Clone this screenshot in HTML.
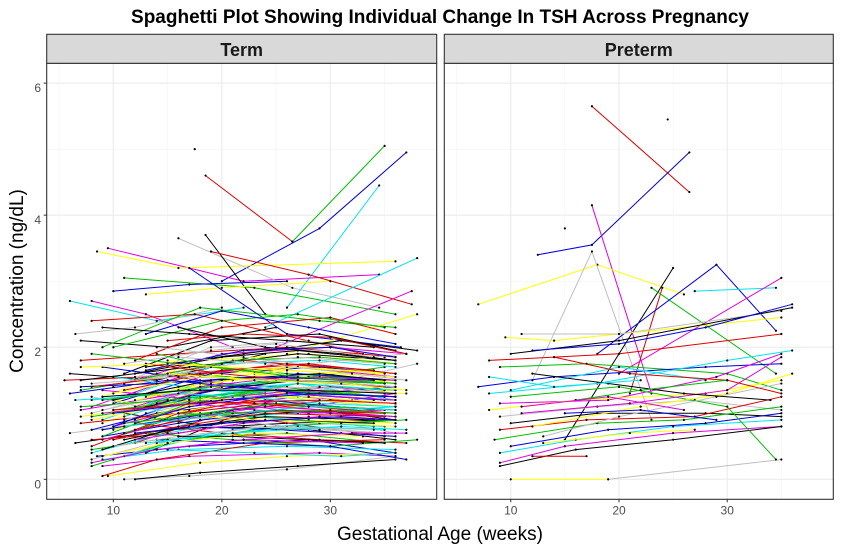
<!DOCTYPE html>
<html><head><meta charset="utf-8"><style>
body{margin:0;background:#fff;}
svg{display:block;font-family:"Liberation Sans",sans-serif;}
</style></head><body>
<svg id="chart" width="842" height="550">
<text x="440" y="23" text-anchor="middle" font-size="19" font-weight="bold" fill="#000">Spaghetti Plot Showing Individual Change In TSH Across Pregnancy</text>
<text x="440" y="540" text-anchor="middle" font-size="19" fill="#000">Gestational Age (weeks)</text>
<text transform="translate(23,281) rotate(-90)" text-anchor="middle" font-size="19" fill="#000">Concentration (ng/dL)</text>
</svg>
<script>
const yTicks=[0,2,4,6];
const xTicks=[10,20,30];
const panelNames=["Term","Preterm"];
const termAges=[[17.5],[18.5,26.5],[26.5,35],[20,29,37],[26,34.5],[9.5,22,34.5],[8.5,16,36],[16,26.5,34.5],[18.5,24],[19,28,37.5],[11,23,36],[10,17,26],[6,14,22],[8,13,21],[13,20,30],[6.5,12,20],[7,15,25],[8,17.5,33],[9,18,29,36],[17,26,36.5],[24,38],[25,37.5],[26,38],[26,38],[6,14,24],[5.5,13,22,36],[7,16,26,35],[6,15,25],[6.5,16,27,36],[7,16,28,36],[7,17,28],[6,15,27,36],[6.5,15,26,35],[8,16,24,35],[8,14,26,35],[8.5,17,28,36],[9,16,26,36],[9,17,29,36],[9.5,18,26,36],[11,17,26,36],[12,18,27,36],[9,14,24,35],[8,15,25,36],[8,14,24,34],[9,16,27,35],[8,17,27,36],[9,18,28,36],[10,19,28,35],[11,19,29,36],[12,20,30,36],[10,20,27,35],[13,20,28,36],[10,18,26,36],[11,19,27,36],[12,19,28,37],[10,20,28,36],[13,21,29,36],[12,21,30,36],[11,20,30,36],[10,19,29,36],[12,20,29,36],[11,20,30,37],[9,19,27,36],[8,18,27,35],[7,17,27,36],[7,16,26,36],[8,16,26,35],[9,18,27,36],[10,19,28,36],[9,18,28,35],[10,18,28,36],[8,17,26,35],[11,19,28,36],[12,20,29,37],[13,21,30,38],[14,22,30,37],[15,23,31,36],[14,22,31,36],[15,23,31,36],[14,22,30,36],[16,24,31,36],[15,23,32,36],[16,23,31,37],[17,25,31,36],[16,24,32,36],[13,21,30,36],[14,21,29,36],[12,20,28,37],[13,22,31,38],[15,22,30,37],[10,17,25,35],[9,16,25,35],[11,18,27,35],[10,17,26,35],[12,19,26,35],[11,19,25,34],[9,17,26,34],[7,16,24,36],[8,16,25,36],[9,17,25,36],
[8,15,23,34],[9,16,24,35],[10,17,25,36],[11,18,26,35],[12,19,27,36],[8,16,26,36],[9,17,27,35],[10,18,27,36],[11,17,25,34],[12,18,26,35],[13,19,27,36],[8,15,24,35],[9,15,23,34],[10,16,24,35],[11,16,25,36],[12,17,26,35],[13,18,27,36],[14,20,28,36],[8,17,28,36],[9,18,29,36],[10,19,29,35],[11,20,28,36],[12,21,29,36],[13,22,30,36],[14,21,29,35],[8,14,22,33],[9,15,23,33],[10,16,24,34],[11,17,24,34],[12,18,25,35],[7,15,24,35],[7,14,23,34],[8,16,25,35],[9,17,26,36],[10,18,26,35],[11,19,27,35],[12,20,27,36],[13,20,26,35],[14,19,27,36],[15,21,28,36],[16,22,29,36],[17,23,30,36],[18,24,31,36],[17,22,29,35],[16,21,28,35],[8,18,26,34],[9,19,27,35],[10,20,29,36],[11,21,28,36],[12,22,29,36],[7,15,26,36],[8,16,27,36],[9,17,28,36],[10,18,29,36],[11,19,30,36],[12,20,31,36],[13,21,31,37],[14,22,32,37],[15,23,31,37],[16,24,32,37]];
const termTsh=[[5.0],[4.6,3.6],[3.6,5.05],[3.0,3.8,4.95],[2.6,4.45],[3.5,3.0,3.1],[3.45,3.2,3.3],[3.65,2.9,2.6],[3.7,2.5],[3.45,3.1,2.65],[3.05,2.9,2.5],[2.85,2.95,3.0],[2.7,2.4,2.6],[2.7,2.5,2.0],[2.8,2.9,3.0],[2.2,2.3,2.6],[2.1,2.0,2.3],[2.4,2.5,1.9],[2.0,2.6,2.4,2.3],[3.2,2.2,2.0],[2.3,3.35],[2.0,2.85],[1.9,2.5],[1.3,1.75],[1.6,1.5,1.9],[1.5,1.55,1.8,1.6],[1.35,1.6,1.5,1.7],[1.3,1.5,1.4],[1.2,1.3,1.45,1.2],[1.05,1.3,1.1,1.3],[0.95,1.2,1.1],[0.7,0.9,1.0,0.85],[0.55,0.75,0.85,0.9],[0.6,0.7,0.9,0.65],[0.45,0.6,0.7,0.55],[0.35,0.5,0.6,0.4],[0.3,0.45,0.5,0.45],[0.2,0.35,0.4,0.35],[0.05,0.25,0.35,0.4],[0.0,0.05,0.15,0.35],[0.0,0.1,0.2,0.3],[0.05,0.3,0.55,0.6],[0.2,0.55,0.8,0.9],[0.75,1.0,1.2,1.05],[0.9,1.3,1.5,1.4],[1.1,1.6,1.7,1.55],[1.25,1.8,1.9,1.75],[1.4,2.0,2.1,1.85],[1.6,2.1,2.2,1.95],[1.8,2.3,2.45,2.2],[2.0,2.4,2.5,2.3],[2.2,2.55,2.3,2.05],[0.5,0.9,1.0,1.1],[0.7,1.1,1.25,1.15],[0.9,1.2,1.35,1.3],[0.3,0.85,0.95,0.7],[0.4,0.95,1.05,0.9],[0.55,1.05,1.2,1.15],[1.0,1.5,1.55,1.45],[1.15,1.6,1.7,1.6],[1.3,1.75,1.8,1.7],[1.45,1.9,2.0,1.9],[0.85,1.4,1.25,1.35],[1.0,1.45,1.6,1.5],[1.5,1.7,1.9,1.8],[1.8,1.9,2.0,1.85],[1.9,1.75,1.6,1.5],[1.7,1.5,1.3,1.4],[1.55,1.35,1.2,1.1],[1.35,1.2,1.0,1.05],[1.2,1.0,0.9,0.85],[1.25,0.95,0.8,0.7],[1.0,0.8,0.75,0.6],[0.85,0.7,0.6,0.55],[0.7,0.6,0.5,0.6],[0.6,0.55,0.5,0.3],[0.45,0.4,0.35,0.4],[1.6,1.4,1.3,1.25],[1.8,1.6,1.45,1.5],[2.0,1.85,1.7,1.6],[2.3,2.0,1.9,1.8],[1.2,1.15,1.0,0.95],[1.0,0.95,0.85,0.9],[0.8,0.75,0.7,0.65],[1.4,1.3,1.2,1.15],[1.1,1.25,1.4,1.3],[1.3,1.5,1.55,1.45],[1.55,1.65,1.75,1.9],[1.7,1.9,2.1,1.95],[2.1,2.2,2.15,1.9],[1.05,1.2,1.4,1.25],[0.65,0.85,1.05,0.95],[0.35,0.65,0.8,0.75],[0.8,1.1,1.3,1.2],[1.2,1.45,1.65,1.55],[1.75,1.95,2.05,1.85],[2.3,2.2,2.1,2.0],[0.85,1.0,1.15,1.0],[0.95,1.15,1.35,1.25],[0.75,0.95,1.15,1.05],
[0.4,0.7,0.95,0.8],[0.6,0.9,1.1,1.0],[0.75,1.05,1.25,1.1],[0.9,1.2,1.4,1.3],[1.05,1.35,1.5,1.4],[0.5,1.0,1.3,1.2],[0.65,1.15,1.45,1.35],[0.8,1.3,1.6,1.5],[0.95,1.25,1.35,1.2],[1.1,1.4,1.55,1.45],[1.25,1.5,1.7,1.6],[0.3,0.6,0.8,0.7],[0.45,0.75,0.9,0.85],[0.6,0.8,1.0,0.95],[0.7,0.95,1.15,1.05],[0.85,1.1,1.3,1.2],[1.0,1.25,1.45,1.35],[1.15,1.4,1.55,1.5],[0.9,1.2,1.25,1.15],[1.05,1.35,1.4,1.3],[1.2,1.5,1.6,1.5],[1.35,1.65,1.75,1.6],[1.5,1.8,1.85,1.75],[1.65,1.95,2.0,1.85],[0.55,0.75,0.85,0.8],[0.25,0.45,0.6,0.55],[0.35,0.55,0.7,0.65],[0.5,0.65,0.8,0.75],[0.6,0.8,0.95,0.9],[0.75,0.95,1.05,1.0],[1.1,1.2,1.35,1.25],[1.4,1.45,1.55,1.5],[1.2,1.35,1.5,1.4],[1.0,1.15,1.3,1.2],[1.3,1.55,1.7,1.6],[1.45,1.7,1.85,1.75],[1.6,1.85,1.95,1.8],[1.75,1.6,1.5,1.4],[1.9,1.7,1.55,1.45],[1.5,1.4,1.3,1.25],[1.3,1.25,1.15,1.1],[1.15,1.05,1.0,0.95],[0.95,0.9,0.85,0.8],[0.8,0.8,0.75,0.7],[0.65,0.65,0.6,0.55],[1.4,1.6,1.75,1.65],[1.2,1.4,1.5,1.45],[1.0,1.2,1.3,1.25],[0.8,1.0,1.1,1.05],[0.6,0.85,0.95,0.9],[1.7,1.75,1.65,1.55],[1.45,1.55,1.5,1.4],[1.25,1.35,1.35,1.3],[1.05,1.15,1.2,1.15],[0.85,1.0,1.05,1.0],[0.7,0.85,0.95,0.9],[0.55,0.7,0.8,0.75],[0.45,0.6,0.7,0.7],[1.6,1.5,1.45,1.35],[1.85,1.75,1.6,1.5]];
const pretermAges=[[17.5,26.5],[24.5],[12.5,17.5,26.5],[15],[17.5,23],[7,18,26],[12,17.5,23],[15,25],[21,24],[23,34.5],[18,29,34.5],[27,34.5],[20,35],[9.5,14,35],[11,20,35],[10,20,36],[8,20,35],[9,17,30,35],[7,14,28,35],[8,18,30,36],[9,19,29,35],[8,16,28,35],[9,18,27,35],[10,18,28,35],[9,17,27,35],[8.5,18,26,35],[10,19,28,35],[9,16,25,35],[9,15,25,35],[10,19],[19,35],[9,16,25,35],[12,17],[10,20,30,34.5],[12,20,28,36],[10,20,28],[11,21,30,35],[12,22,30,36],[13,20,29,35],[12,19,26,34],[14,21,30,35],[16,22,30],[15,22,29],[8,14,22],[11,19,26],[13,21,27]];
const pretermTsh=[[5.65,4.35],[5.45],[3.4,3.55,4.95],[3.8],[4.15,1.3],[2.65,3.25,2.8],[1.5,3.45,0.9],[0.6,3.2],[1.3,2.9],[2.9,1.6],[1.9,3.25,2.25],[2.85,2.9],[1.6,3.05],[2.15,2.1,2.45],[2.2,2.2,2.55],[1.9,2.1,2.6],[1.8,1.9,2.2],[1.7,1.75,1.6,1.35],[1.4,1.55,1.7,1.75],[1.3,1.45,1.8,1.95],[1.15,1.2,1.55,1.9],[1.05,1.2,1.3,1.5],[0.95,1.1,1.2,1.05],[0.85,1.0,1.0,0.95],[0.75,0.9,0.95,1.25],[0.6,0.85,0.9,1.1],[0.5,0.75,0.85,1.0],[0.4,0.6,0.8,0.9],[0.25,0.5,0.7,0.8],[0.0,0.0],[0.0,0.3],[0.2,0.45,0.6,0.8],[0.35,0.35],[1.25,1.4,1.1,0.3],[1.95,2.05,2.3,2.65],[1.35,1.7,1.5],[1.0,1.15,1.35,1.85],[0.8,1.1,1.3,1.6],[0.65,0.95,1.25,1.45],[1.6,1.45,1.3,1.2],[1.85,1.6,1.5,1.3],[1.2,1.35,1.5],[1.0,1.05,0.9],[1.55,1.4,1.5],[1.1,1.25,1.05],[0.55,0.7,0.75]];
const palette=["#000000","#DF0000","#00C000","#0000E0","#00E5EE","#E000E0","#FFFF00","#BEBEBE"];

const NS="http://www.w3.org/2000/svg";
const svg=document.getElementById("chart");
const panels=[{x0:46.7,x1:436.7,ages:termAges,vals:termTsh,key:"term",off:0},{x0:444.3,x1:833.3,ages:pretermAges,vals:pretermTsh,key:"preterm",off:1}];
const panelTop=63.3,panelBottom=499.3,stripTop=34.3;
const xMin=3.86,xMax=39.8,yMin=-0.303,yMax=6.3;
function mk(tag,attrs,parent){const e=document.createElementNS(NS,tag);for(const k in attrs)e.setAttribute(k,attrs[k]);(parent||svg).appendChild(e);return e;}
const yScale=v=>panelBottom-(v-yMin)/(yMax-yMin)*(panelBottom-panelTop);

panels.forEach((p,pi)=>{
  const xs=a=>p.x0+(a-xMin)/(xMax-xMin)*(p.x1-p.x0);
  const g=mk("g",{});
  
  
  mk("rect",{x:p.x0,y:panelTop,width:p.x1-p.x0,height:panelBottom-panelTop,fill:"#fff"},g);
  [1,3,5].forEach(v=>mk("line",{x1:p.x0,x2:p.x1,y1:yScale(v),y2:yScale(v),stroke:"#f3f3f3","stroke-width":0.6},g));
  [5,15,25,35].forEach(v=>mk("line",{x1:xs(v),x2:xs(v),y1:panelTop,y2:panelBottom,stroke:"#f3f3f3","stroke-width":0.6},g));
  yTicks.forEach(v=>mk("line",{x1:p.x0,x2:p.x1,y1:yScale(v),y2:yScale(v),stroke:"#ebebeb","stroke-width":1.1},g));
  xTicks.forEach(v=>mk("line",{x1:xs(v),x2:xs(v),y1:panelTop,y2:panelBottom,stroke:"#ebebeb","stroke-width":1.1},g));
  p.ages.forEach((ag,si)=>{
    const vs=p.vals[si];
    const col=palette[(si+p.off)%palette.length];
    if(ag.length>1){
      const pl=mk("polyline",{points:ag.map((a,i)=>xs(a).toFixed(1)+","+yScale(vs[i]).toFixed(1)).join(" "),fill:"none",stroke:col,"stroke-width":1},g);
      
      
    }
    ag.forEach((a,i)=>{
      const c=mk("circle",{cx:xs(a),cy:yScale(vs[i]),r:1.1,fill:"#000"},g);
      
      
    });
  });
  mk("rect",{x:p.x0,y:panelTop,width:p.x1-p.x0,height:panelBottom-panelTop,fill:"none",stroke:"#333","stroke-width":1.1},g);
  const st=mk("rect",{x:p.x0,y:stripTop,width:p.x1-p.x0,height:panelTop-stripTop,fill:"#d9d9d9",stroke:"#333","stroke-width":1.1});
  
  
  const t=mk("text",{x:(p.x0+p.x1)/2,y:56,"text-anchor":"middle","font-size":18,"font-weight":"bold",fill:"#1a1a1a"});
  t.textContent=panelNames[pi];
  
  
  xTicks.forEach(v=>{
    mk("line",{x1:xs(v),x2:xs(v),y1:panelBottom,y2:panelBottom+3,stroke:"#333"});
    const tl=mk("text",{x:xs(v),y:panelBottom+15,"text-anchor":"middle","font-size":12,fill:"#4d4d4d"});
    tl.textContent=v;
    
    
  });
});
yTicks.forEach(v=>{
  mk("line",{x1:43.7,x2:46.7,y1:yScale(v),y2:yScale(v),stroke:"#333"});
  const tl=mk("text",{x:41,y:yScale(v)+9,"text-anchor":"end","font-size":12,fill:"#4d4d4d"});
  tl.textContent=v;
  
  
});
</script>
</body></html>
